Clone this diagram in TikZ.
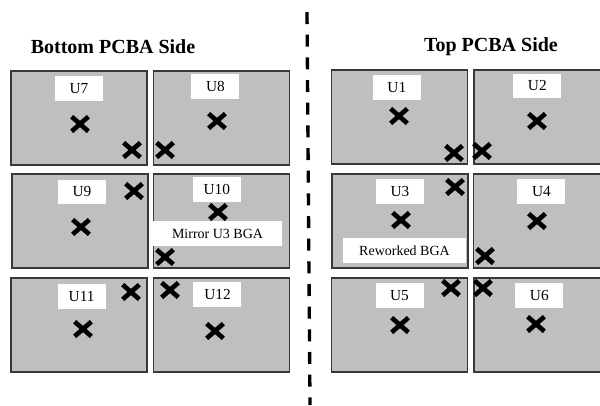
\documentclass[tikz,border=0pt]{standalone}
\usepackage{fontspec}
\setmainfont{Liberation Serif}
\usepackage{xcolor}
\usepackage{tikz}
\usetikzlibrary{shapes.misc, positioning}

\begin{document}
\begin{tikzpicture}[
    x=0.75pt, y=-0.75pt,
    board/.style={rectangle, draw=black!78, fill=black!25, line width=1.1pt, minimum width=102pt, minimum height=70.5pt, inner sep=0pt},
    tag/.style={rectangle, fill=white, minimum width=36pt, minimum height=18.5pt, inner sep=1pt, font=\fontsize{11.5}{12}\selectfont},
    note/.style={rectangle, fill=white, minimum height=18.5pt, inner sep=1pt, font=\fontsize{10.5}{11}\selectfont},
    cross/.style={cross out, draw=black, line width=3.5pt, minimum width=9pt, minimum height=7.5pt, inner sep=0pt},
    side/.style={font=\fontsize{15}{16}\selectfont\bfseries},
]
\useasboundingbox (0,0) rectangle (600,405);

% Titles
\node[side] (bottomtitle) at (113,47) {Bottom PCBA Side};
\node[side] (toptitle) at (491,47) {Top PCBA Side};

% Divider
\coordinate (divtop) at (307,12);
\coordinate (divbot) at (310,405);
\draw[line width=2.5pt, dash pattern=on 9pt off 8pt] (divtop) -- (divbot);

% Bottom side boards
\node[board] (u7) at (79,118) {};
\node[board, right=3.75pt of u7] (u8) {};
\node[board] (u9) at (80,221) {};
\node[board, right=3pt of u9] (u10) {};
\node[board] (u11) at (79,325) {};
\node[board, right=3.75pt of u11] (u12) {};

% Top side boards
\node[board] (u1) at (399.5,117) {};
\node[board, right=3.75pt of u1] (u2) {};
\node[board] (u3) at (400,221) {};
\node[board, right=3pt of u3] (u4) {};
\node[board] (u5) at (399.5,325) {};
\node[board, right=3.75pt of u5] (u6) {};

% Labels
\node[tag, below=4pt of u7.north] (t7) {U7};
\node[tag, below=2.5pt of u8.north, xshift=-4.5pt] (t8) {U8};
\node[tag, below=4.5pt of u9.north, xshift=1.5pt] (t9) {U9};
\node[tag, below=2.5pt of u10.north, xshift=-3.5pt] (t10) {U10};
\node[tag, below=5pt of u11.north, xshift=2pt] (t11) {U11};
\node[tag, below=3.5pt of u12.north, xshift=-3pt] (t12) {U12};
\node[tag, below=4pt of u1.north, xshift=-2pt] (t1) {U1};
\node[tag, below=3pt of u2.north, xshift=-3.5pt] (t2) {U2};
\node[tag, below=4pt of u3.north] (t3) {U3};
\node[tag, below=4pt of u4.north] (t4) {U4};
\node[tag, below=4pt of u5.north] (t5) {U5};
\node[tag, below=4pt of u6.north, xshift=-2pt] (t6) {U6};

\node[note, minimum width=96.5pt] (mirror) at (217.5,233.5) {Mirror U3 BGA};
\node[note, minimum width=92pt] (rework) at (404.5,250.5) {Reworked BGA};

% Crosses, bottom side
\node[cross] (c7) at (80,124) {};
\node[cross] (e7) at (132,150) {};
\node[cross] (c8) at (217,121) {};
\node[cross] (e8) at (165,150) {};
\node[cross] (c9) at (81,227) {};
\node[cross] (e9) at (134,191) {};
\node[cross] (c10) at (218,212) {};
\node[cross] (e10) at (165,257) {};
\node[cross] (c11) at (83,329) {};
\node[cross] (e11) at (131,292) {};
\node[cross] (c12) at (215,331) {};
\node[cross] (e12) at (170,290) {};

% Crosses, top side
\node[cross] (c1) at (399,116) {};
\node[cross] (e1) at (454,153) {};
\node[cross] (c2) at (537,121) {};
\node[cross] (e2) at (482,151) {};
\node[cross] (c3) at (401,220) {};
\node[cross] (e3) at (455,187) {};
\node[cross] (c4) at (537,221) {};
\node[cross] (e4) at (485,256) {};
\node[cross] (c5) at (400,325) {};
\node[cross] (e5) at (451,288) {};
\node[cross] (c6) at (536,324) {};
\node[cross] (e6) at (483,288) {};

\end{tikzpicture}
\end{document}
